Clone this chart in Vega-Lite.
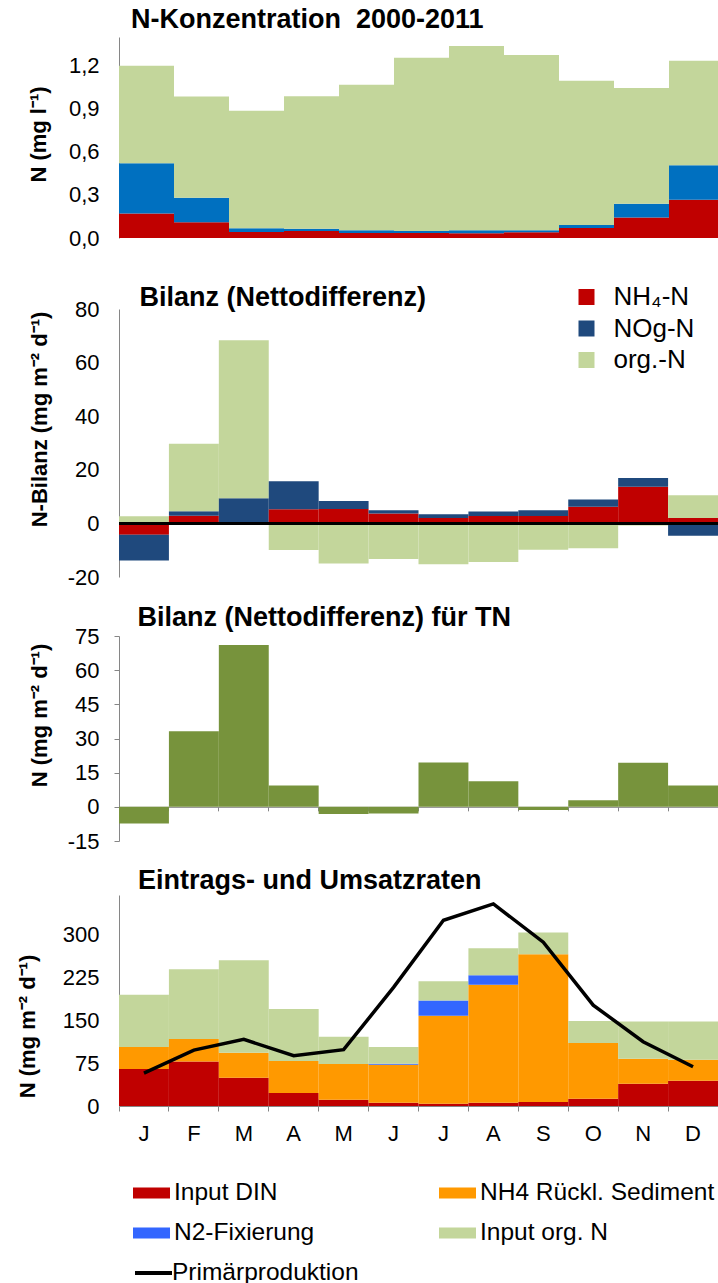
{
  "$schema": "https://vega.github.io/schema/vega-lite/v6.json",
  "padding": {"left": 16, "top": 6, "right": 0, "bottom": 0},
  "background": "white",
  "config": {
    "font": "Liberation Sans",
    "view": {"stroke": null},
    "axis": {"labelFont": "Liberation Sans", "labelFontSize": 22, "labelColor": "#000000", "titleFont": "Liberation Sans", "titleFontSize": 22, "titleFontWeight": "bold", "titleColor": "#000000", "domainColor": "#868686", "domainWidth": 1, "tickColor": "#868686", "grid": false},
    "legend": {"labelFont": "Liberation Sans", "labelColor": "#000000", "padding": 0, "titlePadding": 0, "labelLimit": 400},
    "title": {"font": "Liberation Sans", "fontSize": 27, "fontWeight": "bold", "color": "#000000", "anchor": "start", "frame": "group"}
  },
  "datasets": {
    "konz": [
      {"month": "Jan", "k": "NH4-N", "o": 1, "v": 0.17}, {"month": "Jan", "k": "NO3-N", "o": 2, "v": 0.35}, {"month": "Jan", "k": "org.-N", "o": 3, "v": 0.68},
      {"month": "Feb", "k": "NH4-N", "o": 1, "v": 0.11}, {"month": "Feb", "k": "NO3-N", "o": 2, "v": 0.17}, {"month": "Feb", "k": "org.-N", "o": 3, "v": 0.705},
      {"month": "Mar", "k": "NH4-N", "o": 1, "v": 0.042}, {"month": "Mar", "k": "NO3-N", "o": 2, "v": 0.026}, {"month": "Mar", "k": "org.-N", "o": 3, "v": 0.818},
      {"month": "Apr", "k": "NH4-N", "o": 1, "v": 0.049}, {"month": "Apr", "k": "NO3-N", "o": 2, "v": 0.016}, {"month": "Apr", "k": "org.-N", "o": 3, "v": 0.923},
      {"month": "May", "k": "NH4-N", "o": 1, "v": 0.035}, {"month": "May", "k": "NO3-N", "o": 2, "v": 0.019}, {"month": "May", "k": "org.-N", "o": 3, "v": 1.014},
      {"month": "Jun", "k": "NH4-N", "o": 1, "v": 0.035}, {"month": "Jun", "k": "NO3-N", "o": 2, "v": 0.014}, {"month": "Jun", "k": "org.-N", "o": 3, "v": 1.207},
      {"month": "Jul", "k": "NH4-N", "o": 1, "v": 0.033}, {"month": "Jul", "k": "NO3-N", "o": 2, "v": 0.021}, {"month": "Jul", "k": "org.-N", "o": 3, "v": 1.284},
      {"month": "Aug", "k": "NH4-N", "o": 1, "v": 0.04}, {"month": "Aug", "k": "NO3-N", "o": 2, "v": 0.014}, {"month": "Aug", "k": "org.-N", "o": 3, "v": 1.221},
      {"month": "Sep", "k": "NH4-N", "o": 1, "v": 0.07}, {"month": "Sep", "k": "NO3-N", "o": 2, "v": 0.021}, {"month": "Sep", "k": "org.-N", "o": 3, "v": 1.005},
      {"month": "Oct", "k": "NH4-N", "o": 1, "v": 0.142}, {"month": "Oct", "k": "NO3-N", "o": 2, "v": 0.096}, {"month": "Oct", "k": "org.-N", "o": 3, "v": 0.806},
      {"month": "Nov", "k": "NH4-N", "o": 1, "v": 0.266}, {"month": "Nov", "k": "NO3-N", "o": 2, "v": 0.24}, {"month": "Nov", "k": "org.-N", "o": 3, "v": 0.729}
    ],
    "bilanz": [
      {"month": "Jan", "k": "NH₄-N", "o": 1, "v": -4.2}, {"month": "Jan", "k": "NOg-N", "o": 2, "v": -9.6}, {"month": "Jan", "k": "org.-N", "o": 3, "v": 2.7},
      {"month": "Feb", "k": "NH₄-N", "o": 1, "v": 2.9}, {"month": "Feb", "k": "NOg-N", "o": 2, "v": 1.6}, {"month": "Feb", "k": "org.-N", "o": 3, "v": 25.2},
      {"month": "Mar", "k": "NH₄-N", "o": 1, "v": 0}, {"month": "Mar", "k": "NOg-N", "o": 2, "v": 9.4}, {"month": "Mar", "k": "org.-N", "o": 3, "v": 58.9},
      {"month": "Apr", "k": "NH₄-N", "o": 1, "v": 5.3}, {"month": "Apr", "k": "NOg-N", "o": 2, "v": 10.4}, {"month": "Apr", "k": "org.-N", "o": 3, "v": -9.9},
      {"month": "May", "k": "NH₄-N", "o": 1, "v": 5.4}, {"month": "May", "k": "NOg-N", "o": 2, "v": 3.0}, {"month": "May", "k": "org.-N", "o": 3, "v": -15.0},
      {"month": "Jun", "k": "NH₄-N", "o": 1, "v": 3.7}, {"month": "Jun", "k": "NOg-N", "o": 2, "v": 1.2}, {"month": "Jun", "k": "org.-N", "o": 3, "v": -13.3},
      {"month": "Jul", "k": "NH₄-N", "o": 1, "v": 2.0}, {"month": "Jul", "k": "NOg-N", "o": 2, "v": 1.4}, {"month": "Jul", "k": "org.-N", "o": 3, "v": -15.2},
      {"month": "Aug", "k": "NH₄-N", "o": 1, "v": 2.8}, {"month": "Aug", "k": "NOg-N", "o": 2, "v": 1.6}, {"month": "Aug", "k": "org.-N", "o": 3, "v": -14.4},
      {"month": "Sep", "k": "NH₄-N", "o": 1, "v": 2.8}, {"month": "Sep", "k": "NOg-N", "o": 2, "v": 2.1}, {"month": "Sep", "k": "org.-N", "o": 3, "v": -9.8},
      {"month": "Oct", "k": "NH₄-N", "o": 1, "v": 6.2}, {"month": "Oct", "k": "NOg-N", "o": 2, "v": 2.7}, {"month": "Oct", "k": "org.-N", "o": 3, "v": -9.3},
      {"month": "Nov", "k": "NH₄-N", "o": 1, "v": 13.7}, {"month": "Nov", "k": "NOg-N", "o": 2, "v": 3.2}, {"month": "Nov", "k": "org.-N", "o": 3, "v": -0.8},
      {"month": "Dec", "k": "NH₄-N", "o": 1, "v": 2.0}, {"month": "Dec", "k": "NOg-N", "o": 2, "v": -4.6}, {"month": "Dec", "k": "org.-N", "o": 3, "v": 8.5}
    ],
    "tn": [
      {"month": "Jan", "v": -7.3}, {"month": "Feb", "v": 33.2}, {"month": "Mar", "v": 71.1}, {"month": "Apr", "v": 9.4},
      {"month": "May", "v": -3.1}, {"month": "Jun", "v": -2.9}, {"month": "Jul", "v": 19.5}, {"month": "Aug", "v": 11.2},
      {"month": "Sep", "v": -1.4}, {"month": "Oct", "v": 2.9}, {"month": "Nov", "v": 19.4}, {"month": "Dec", "v": 9.4}
    ],
    "raten": [
      {"month": "Jan", "k": "Input DIN", "o": 1, "v": 64.8}, {"month": "Jan", "k": "NH4 Rückl. Sediment", "o": 2, "v": 38.5}, {"month": "Jan", "k": "N2-Fixierung", "o": 3, "v": 0}, {"month": "Jan", "k": "Input org. N", "o": 4, "v": 91.7},
      {"month": "Feb", "k": "Input DIN", "o": 1, "v": 78.2}, {"month": "Feb", "k": "NH4 Rückl. Sediment", "o": 2, "v": 39.1}, {"month": "Feb", "k": "N2-Fixierung", "o": 3, "v": 0}, {"month": "Feb", "k": "Input org. N", "o": 4, "v": 122.6},
      {"month": "Mar", "k": "Input DIN", "o": 1, "v": 49.6}, {"month": "Mar", "k": "NH4 Rückl. Sediment", "o": 2, "v": 43.8}, {"month": "Mar", "k": "N2-Fixierung", "o": 3, "v": 0}, {"month": "Mar", "k": "Input org. N", "o": 4, "v": 162.3},
      {"month": "Apr", "k": "Input DIN", "o": 1, "v": 22.8}, {"month": "Apr", "k": "NH4 Rückl. Sediment", "o": 2, "v": 56.0}, {"month": "Apr", "k": "N2-Fixierung", "o": 3, "v": 0}, {"month": "Apr", "k": "Input org. N", "o": 4, "v": 91.1},
      {"month": "May", "k": "Input DIN", "o": 1, "v": 11.1}, {"month": "May", "k": "NH4 Rückl. Sediment", "o": 2, "v": 62.5}, {"month": "May", "k": "N2-Fixierung", "o": 3, "v": 0}, {"month": "May", "k": "Input org. N", "o": 4, "v": 47.8},
      {"month": "Jun", "k": "Input DIN", "o": 1, "v": 5.8}, {"month": "Jun", "k": "NH4 Rückl. Sediment", "o": 2, "v": 66.6}, {"month": "Jun", "k": "N2-Fixierung", "o": 3, "v": 1.7}, {"month": "Jun", "k": "Input org. N", "o": 4, "v": 29.2},
      {"month": "Jul", "k": "Input DIN", "o": 1, "v": 4.1}, {"month": "Jul", "k": "NH4 Rückl. Sediment", "o": 2, "v": 154.1}, {"month": "Jul", "k": "N2-Fixierung", "o": 3, "v": 26.8}, {"month": "Jul", "k": "Input org. N", "o": 4, "v": 33.9},
      {"month": "Aug", "k": "Input DIN", "o": 1, "v": 5.8}, {"month": "Aug", "k": "NH4 Rückl. Sediment", "o": 2, "v": 206.7}, {"month": "Aug", "k": "N2-Fixierung", "o": 3, "v": 16.9}, {"month": "Aug", "k": "Input org. N", "o": 4, "v": 47.3},
      {"month": "Sep", "k": "Input DIN", "o": 1, "v": 7.0}, {"month": "Sep", "k": "NH4 Rückl. Sediment", "o": 2, "v": 259.2}, {"month": "Sep", "k": "N2-Fixierung", "o": 3, "v": 0}, {"month": "Sep", "k": "Input org. N", "o": 4, "v": 38.0},
      {"month": "Oct", "k": "Input DIN", "o": 1, "v": 12.8}, {"month": "Oct", "k": "NH4 Rückl. Sediment", "o": 2, "v": 97.5}, {"month": "Oct", "k": "N2-Fixierung", "o": 3, "v": 0}, {"month": "Oct", "k": "Input org. N", "o": 4, "v": 38.6},
      {"month": "Nov", "k": "Input DIN", "o": 1, "v": 39.1}, {"month": "Nov", "k": "NH4 Rückl. Sediment", "o": 2, "v": 43.8}, {"month": "Nov", "k": "N2-Fixierung", "o": 3, "v": 0}, {"month": "Nov", "k": "Input org. N", "o": 4, "v": 65.4},
      {"month": "Dec", "k": "Input DIN", "o": 1, "v": 44.4}, {"month": "Dec", "k": "NH4 Rückl. Sediment", "o": 2, "v": 36.7}, {"month": "Dec", "k": "N2-Fixierung", "o": 3, "v": 0}, {"month": "Dec", "k": "Input org. N", "o": 4, "v": 67.2}
    ],
    "pp": [
      {"month": "Jan", "s": "Primärproduktion", "v": 57.8}, {"month": "Feb", "s": "Primärproduktion", "v": 98}, {"month": "Mar", "s": "Primärproduktion", "v": 116.8},
      {"month": "Apr", "s": "Primärproduktion", "v": 88.1}, {"month": "May", "s": "Primärproduktion", "v": 98.7}, {"month": "Jun", "s": "Primärproduktion", "v": 208},
      {"month": "Jul", "s": "Primärproduktion", "v": 325.7}, {"month": "Aug", "s": "Primärproduktion", "v": 354.3}, {"month": "Sep", "s": "Primärproduktion", "v": 287.2},
      {"month": "Oct", "s": "Primärproduktion", "v": 176.9}, {"month": "Nov", "s": "Primärproduktion", "v": 112.7}, {"month": "Dec", "s": "Primärproduktion", "v": 68.9}
    ],
    "zero": [{"z": 0}],
    "empty": []
  },
  "spacing": 0,
  "bounds": "flush",
  "resolve": {"scale": {"x": "independent", "y": "independent", "color": "independent", "stroke": "independent"}, "legend": {"color": "independent", "stroke": "independent"}},
  "vconcat": [
    {
      "width": 599, "height": 201,
      "title": {"text": "N-Konzentration\u00a0 2000-2011", "dx": 12, "offset": 2.7},
      "data": {"name": "konz"},
      "mark": {"type": "bar", "clip": true},
      "encoding": {
        "x": {"field": "month", "type": "ordinal", "scale": {"domain": ["Jan","Feb","Mar","Apr","May","Jun","Jul","Aug","Sep","Oct","Nov","Dec"], "range": [0, 660], "paddingInner": 0, "paddingOuter": 0}, "axis": null},
        "y": {"field": "v", "type": "quantitative", "stack": "zero", "scale": {"domain": [0, 1.4], "nice": false},
              "axis": {"values": [0, 0.3, 0.6, 0.9, 1.2], "labelExpr": "replace(format(datum.value, '.1f'), '.', ',')", "ticks": false, "tickSize": 0, "labelPadding": 20, "title": "N (mg l⁻¹)", "titleX": -74, "titleY": 97, "titleAlign": "center", "titleAngle": -90, "titleBaseline": "alphabetic"}},
        "color": {"field": "k", "type": "nominal", "scale": {"domain": ["NH4-N", "NO3-N", "org.-N"], "range": ["#C00000", "#0070C0", "#C3D69B"]}, "legend": null},
        "order": {"field": "o", "type": "quantitative"}
      }
    },
    {"width": 599, "height": 71, "data": {"name": "empty"}, "mark": "point"},
    {
      "width": 599, "height": 268,
      "title": {"text": "Bilanz (Nettodifferenz)", "dx": 20.5, "offset": -28},
      "layer": [
        {
          "data": {"name": "bilanz"},
          "mark": {"type": "bar"},
          "encoding": {
            "x": {"field": "month", "type": "ordinal", "scale": {"domain": ["Jan","Feb","Mar","Apr","May","Jun","Jul","Aug","Sep","Oct","Nov","Dec"], "paddingInner": 0, "paddingOuter": 0}, "axis": null},
            "y": {"field": "v", "type": "quantitative", "stack": "zero", "scale": {"domain": [-20, 80], "nice": false},
                  "axis": {"values": [-20, 0, 20, 40, 60, 80], "labelExpr": "'' + datum.value", "ticks": false, "tickSize": 0, "labelPadding": 20, "title": "N-Bilanz (mg m⁻² d⁻¹)", "titleX": -73, "titleY": 110, "titleAlign": "center", "titleAngle": -90, "titleBaseline": "alphabetic"}},
            "color": {"field": "k", "type": "nominal", "scale": {"domain": ["NH₄-N", "NOg-N", "org.-N"], "range": ["#C00000", "#1F497D", "#C3D69B"]},
                      "legend": {"orient": "none", "legendX": 454.5, "legendY": -25, "title": null, "symbolType": "square", "symbolSize": 256, "symbolStrokeWidth": 0, "labelFontSize": 26, "labelOffset": 14, "rowPadding": 5.5}},
            "order": {"field": "o", "type": "quantitative"}
          }
        },
        {
          "data": {"name": "zero"},
          "mark": {"type": "rule", "color": "#000000", "strokeWidth": 3},
          "encoding": {"y": {"field": "z", "type": "quantitative"}}
        }
      ]
    },
    {"width": 599, "height": 58.7, "data": {"name": "empty"}, "mark": "point"},
    {
      "width": 599, "height": 205,
      "title": {"text": "Bilanz (Nettodifferenz) für TN", "dx": 18.5, "offset": -7.3},
      "data": {"name": "tn"},
      "mark": {"type": "bar", "color": "#77933C"},
      "encoding": {
        "x": {"field": "month", "type": "ordinal", "scale": {"domain": ["Jan","Feb","Mar","Apr","May","Jun","Jul","Aug","Sep","Oct","Nov","Dec"], "paddingInner": 0, "paddingOuter": 0},
              "axis": {"orient": "bottom", "offset": -34.17, "labels": false, "ticks": true, "tickSize": 4, "bandPosition": 0, "title": null, "domain": true}},
        "y": {"field": "v", "type": "quantitative", "scale": {"domain": [-15, 75], "nice": false},
              "axis": {"values": [-15, 0, 15, 30, 45, 60, 75], "labelExpr": "'' + datum.value", "ticks": true, "tickSize": 5, "labelPadding": 15, "title": "N (mg m⁻² d⁻¹)", "titleX": -73, "titleY": 79, "titleAlign": "center", "titleAngle": -90, "titleBaseline": "alphabetic"}}
      }
    },
    {"width": 599, "height": 53.3, "data": {"name": "empty"}, "mark": "point"},
    {
      "width": 599, "height": 211,
      "title": {"text": "Eintrags- und Umsatzraten", "dx": 19, "offset": 0.3},
      "layer": [
        {
          "data": {"name": "raten"},
          "mark": {"type": "bar"},
          "encoding": {
            "x": {"field": "month", "type": "ordinal", "scale": {"domain": ["Jan","Feb","Mar","Apr","May","Jun","Jul","Aug","Sep","Oct","Nov","Dec"], "paddingInner": 0, "paddingOuter": 0},
                  "axis": {"orient": "bottom", "title": null, "bandPosition": 0, "labelOffset": 0, "labelExpr": "substring(datum.label, 0, 1)", "ticks": true, "tickSize": 5, "labelPadding": 12, "labelAngle": 0}},
            "y": {"field": "v", "type": "quantitative", "stack": "zero", "scale": {"domain": [0, 370], "nice": false},
                  "axis": {"values": [0, 75, 150, 225, 300], "ticks": false, "tickSize": 0, "labelPadding": 20, "title": "N (mg m⁻² d⁻¹)", "titleX": -84.5, "titleY": 131, "titleAlign": "center", "titleAngle": -90, "titleBaseline": "alphabetic"}},
            "color": {"field": "k", "type": "nominal", "scale": {"domain": ["Input DIN", "NH4 Rückl. Sediment", "N2-Fixierung", "Input org. N"], "range": ["#C00000", "#FF9900", "#3366FF", "#C3D69B"]},
                      "legend": {"orient": "none", "direction": "horizontal", "legendX": 14, "legendY": 279.5, "columns": 2, "title": null, "symbolType": "M-1,-0.3H1V0.3H-1Z", "symbolSize": 1369, "symbolStrokeWidth": 0, "labelFontSize": 24.5, "labelOffset": 4, "columnPadding": 124, "rowPadding": 10}},
            "order": {"field": "o", "type": "quantitative"}
          }
        },
        {
          "data": {"name": "pp"},
          "mark": {"type": "line", "strokeWidth": 3.5},
          "encoding": {
            "x": {"field": "month", "type": "ordinal"},
            "y": {"field": "v", "type": "quantitative"},
            "stroke": {"field": "s", "type": "nominal", "scale": {"range": ["#000000"]},
                       "legend": {"orient": "none", "legendX": 14, "legendY": 357.5, "title": null, "symbolType": "stroke", "symbolSize": 1369, "symbolStrokeWidth": 4, "labelFontSize": 24.5, "labelOffset": -2}}
          }
        }
      ]
    }
  ]
}
